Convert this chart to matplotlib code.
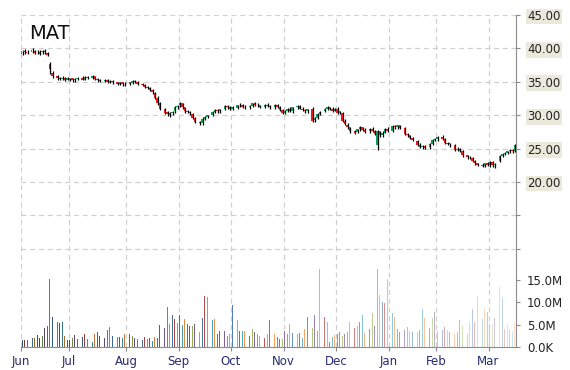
import numpy as np
import matplotlib
matplotlib.use("Agg")
import matplotlib.pyplot as plt
from matplotlib.colors import to_rgb

plt.rc("font", family="DejaVu Sans")

ticker = "MAT"
months = ["Jun", "Jul", "Aug", "Sep", "Oct", "Nov", "Dec", "Jan", "Feb", "Mar"]
month_days = [19, 23, 21, 21, 21, 21, 21, 19, 21, 11]
N = None

opens = [
    39.2, 39.6, 39.4, N, 39.5, 39.6, 39.4, 39.5, 39.4, 39.6, 39.3, 37.6, 36.3, N, 35.8, 35.5, 35.4, 35.6, 35.3,
    35.3, 35.5, 35.2, 35.4, N, 35.6, 35.3, 35.7, N, 35.6, 35.8, 35.4, 35.2, N, 35.1, 35.3, 35.0, 35.1, N, 34.9, 34.7, 34.9, 34.6,
    N, 34.7, 34.8, 35.1, 35.0, N, 34.6, 34.5, 34.2, 34.0, 33.8, 33.3, 32.6, 31.8, N, 31.0, 30.5, 30.0, 30.3, 30.6, 31.2,
    31.5, 31.8, 31.2, 30.6, 30.4, 30.2, 29.6, N, 29.0, 28.8, 29.5, 29.8, N, 30.1, 30.5, 30.8, 30.6, N, 31.0, 31.4, 31.2,
    31.0, N, 31.1, 31.5, 31.6, 31.3, N, 31.2, 31.4, 31.8, 31.6, 31.5, N, 31.3, 31.6, 31.4, N, 31.2, 31.6, 31.3, 30.8,
    30.4, 30.7, 31.0, 30.6, N, 31.2, 31.4, 31.0, 30.8, 30.6, N, 31.0, 29.3, 29.6, 30.2, N, 30.7, 31.0, 31.2, 31.0, 30.7,
    31.0, 30.4, 30.3, 29.2, 28.6, 28.2, N, 27.6, 27.5, 27.9, 28.2, 27.8, N, 27.6, 28.0, 27.7, 25.5, 27.6, 27.0, 27.4, 28.0,
    N, 27.6, 28.4, 28.2, 28.5, N, 28.1, 27.2, 27.0, 26.6, N, 26.2, 25.6, 25.3, 25.4, N, 25.2, 25.7, 26.3,
    26.4, N, 26.8, 26.5, 25.9, 25.7, N, 25.6, 24.8, 25.0, 24.7, N, 24.0, 23.7, 23.6, 23.2, 22.8, N, 22.6, 22.4, 22.8,
    22.6, 23.0, 22.5, N, 23.2, 23.9, 24.2, 24.4, 24.6, 24.8, 24.6,
]
highs = [
    39.8, 39.9, 39.7, N, 40.1, 39.8, 39.7, 39.8, 39.7, 39.9, 39.5, 37.9, 36.6, N, 36.0, 35.7, 35.8, 35.7, 35.7,
    35.6, 35.6, 35.5, 35.7, N, 35.8, 35.8, 35.9, N, 36.0, 35.9, 35.5, 35.4, N, 35.4, 35.4, 35.3, 35.2, N, 35.0, 35.0, 35.0, 34.9,
    N, 35.0, 35.2, 35.3, 35.1, N, 34.8, 34.6, 34.4, 34.2, 33.9, 33.5, 32.8, 32.0, N, 31.1, 30.7, 30.5, 30.7, 31.4, 31.6,
    32.0, 31.9, 31.3, 30.8, 30.6, 30.3, 29.7, N, 29.2, 29.7, 29.9, 30.1, N, 30.6, 30.9, 31.0, 31.0, N, 31.5, 31.6, 31.4,
    31.4, N, 31.6, 31.8, 31.7, 31.5, N, 31.5, 31.9, 32.0, 31.8, 31.6, N, 31.7, 31.8, 31.6, N, 31.7, 31.7, 31.4, 31.0,
    30.8, 31.1, 31.2, 31.3, N, 31.6, 31.5, 31.2, 31.0, 31.0, N, 31.2, 29.8, 30.4, 30.7, N, 31.1, 31.4, 31.3, 31.2, 31.1,
    31.2, 30.7, 30.5, 29.4, 28.8, 28.3, N, 27.8, 28.0, 28.4, 28.3, 28.1, N, 28.1, 28.2, 27.8, 27.8, 27.7, 27.6, 28.1, 28.2,
    N, 28.5, 28.6, 28.6, 28.6, N, 28.2, 27.4, 27.1, 26.8, N, 26.3, 25.8, 25.6, 25.6, N, 25.8, 26.4, 26.6,
    26.9, N, 27.0, 26.6, 26.0, 25.9, N, 25.7, 25.2, 25.1, 24.8, N, 24.1, 23.9, 23.7, 23.3, 22.9, N, 22.8, 22.9, 23.0,
    23.2, 23.1, 22.9, N, 24.0, 24.3, 24.5, 24.7, 24.9, 24.9, 25.7,
]
lows = [
    39.0, 39.2, 39.1, N, 39.3, 39.1, 39.2, 39.0, 39.2, 39.2, 38.8, 36.2, 35.6, N, 35.3, 35.2, 35.2, 35.1, 35.2,
    35.1, 35.0, 35.0, 35.2, N, 35.2, 35.2, 35.4, N, 35.4, 35.3, 35.0, 34.9, N, 34.9, 34.8, 34.8, 34.7, N, 34.5, 34.5, 34.4, 34.4,
    N, 34.5, 34.6, 34.8, 34.5, N, 34.3, 34.0, 33.9, 33.6, 33.2, 32.4, 31.6, 30.8, N, 30.2, 29.9, 29.8, 30.1, 30.4, 31.0,
    31.3, 31.0, 30.4, 30.3, 30.1, 29.4, 28.8, N, 28.5, 28.6, 29.3, 29.6, N, 29.9, 30.3, 30.4, 30.4, N, 30.8, 31.0, 30.8,
    30.8, N, 30.9, 31.3, 31.1, 31.0, N, 31.0, 31.2, 31.4, 31.3, 31.1, N, 31.1, 31.2, 31.0, N, 31.0, 31.1, 30.6, 30.2,
    30.2, 30.5, 30.5, 30.4, N, 31.0, 30.9, 30.6, 30.4, 30.4, N, 29.0, 29.0, 29.4, 30.0, N, 30.5, 30.8, 30.8, 30.5, 30.6,
    30.2, 30.2, 29.0, 28.5, 28.0, 27.4, N, 27.2, 27.3, 27.7, 27.6, 27.3, N, 27.4, 27.5, 27.0, 24.8, 26.8, 26.8, 27.3, 27.5,
    N, 27.5, 28.0, 28.0, 27.9, N, 27.0, 26.8, 26.4, 26.1, N, 25.4, 25.1, 24.9, 24.9, N, 25.0, 25.6, 26.1,
    26.2, N, 26.3, 25.7, 25.5, 25.3, N, 24.6, 24.6, 24.5, 23.8, N, 23.5, 23.4, 23.0, 22.6, 22.4, N, 22.2, 22.3, 22.4,
    22.2, 22.3, 22.1, N, 23.0, 23.7, 24.0, 24.2, 24.4, 24.4, 24.5,
]
closes = [
    39.6, 39.4, 39.3, N, 39.8, 39.3, 39.5, 39.2, 39.6, 39.4, 39.0, 36.9, 35.8, N, 35.5, 35.4, 35.6, 35.3, 35.5,
    35.5, 35.2, 35.4, 35.6, N, 35.3, 35.7, 35.5, N, 35.8, 35.4, 35.2, 35.1, N, 35.3, 35.0, 35.1, 34.9, N, 34.7, 34.9, 34.6, 34.7,
    N, 34.9, 35.1, 35.0, 34.6, N, 34.5, 34.2, 34.0, 33.8, 33.4, 32.6, 31.8, 31.0, N, 30.4, 30.2, 30.3, 30.5, 31.2, 31.4,
    31.8, 31.2, 30.6, 30.5, 30.3, 29.6, 29.0, N, 28.8, 29.5, 29.8, 30.0, N, 30.5, 30.8, 30.6, 30.9, N, 31.4, 31.2, 31.0,
    31.3, N, 31.5, 31.6, 31.3, 31.2, N, 31.4, 31.8, 31.6, 31.5, 31.3, N, 31.6, 31.4, 31.2, N, 31.6, 31.3, 30.8, 30.4,
    30.7, 31.0, 30.6, 31.2, N, 31.4, 31.0, 30.8, 30.6, 30.9, N, 29.2, 29.6, 30.2, 30.5, N, 31.0, 31.2, 31.0, 30.7, 31.0,
    30.4, 30.6, 29.2, 28.7, 28.2, 27.6, N, 27.4, 27.9, 28.3, 27.8, 27.5, N, 28.0, 27.7, 27.2, 27.6, 27.0, 27.4, 28.0, 27.7,
    N, 28.4, 28.2, 28.5, 28.1, N, 27.2, 27.0, 26.6, 26.3, N, 25.6, 25.3, 25.4, 25.1, N, 25.7, 26.3, 26.4,
    26.8, N, 26.5, 25.9, 25.7, 25.6, N, 24.8, 25.0, 24.7, 24.0, N, 23.7, 23.8, 23.2, 22.8, 22.6, N, 22.4, 22.8, 22.6,
    23.0, 22.5, 22.7, N, 23.9, 24.2, 24.4, 24.6, 24.8, 24.6, 25.5,
]
# volume in millions of shares
volumes = [
    1.6, 1.6, 1.5, N, 2.0, 2.0, 2.6, 2.0, 2.5, 4.3, 4.7, 15.2, 6.7, N, 5.6, 5.4, 5.6, 2.5, 1.6,
    1.6, 2.0, 2.6, 1.8, N, 2.3, 3.0, 1.8, N, 1.1, 2.8, 3.3, 2.5, N, 2.0, 3.8, 4.5, 2.5, N, 2.3, 2.3, 2.0, 3.0,
    N, 3.0, 2.5, 2.0, 1.8, N, 1.6, 2.3, 1.8, 2.0, 1.3, 2.3, 2.0, 4.9, N, 4.3, 8.9, 5.1, 7.2, 6.3, 5.4,
    7.2, 4.9, 6.3, 5.2, 4.6, 4.7, 5.2, N, 3.3, 6.5, 11.4, 11.2, N, 6.0, 6.3, 3.0, 3.5, N, 3.5, 2.5, 2.8,
    9.4, N, 6.0, 3.5, 3.5, 3.5, N, 2.5, 4.1, 3.3, 3.0, 2.5, N, 2.0, 2.8, 6.0, N, 2.8, 2.3, 1.8, 1.8,
    3.6, 2.9, 5.2, 3.2, N, 2.9, 3.2, 2.1, 4.1, 6.7, N, 4.3, 7.2, 3.6, 17.5, N, 6.7, 5.5, 1.2, 2.3, 2.6,
    2.9, 3.3, 2.4, 2.9, 3.3, 5.5, N, 4.3, 4.7, 5.5, 7.2, 3.2, N, 4.1, 7.5, 4.7, 17.5, 11.7, 10.1, 9.9, 15.2,
    N, 7.6, 6.7, 4.0, 3.4, N, 3.9, 4.4, 3.6, 3.4, N, 3.4, 3.9, 8.4, 6.6, N, 4.3, 6.5, 7.8,
    3.6, N, 3.9, 4.4, 3.9, 3.4, N, 3.0, 3.4, 6.1, 4.6, N, 2.9, 5.5, 8.4, 5.5, 11.4, N, 6.2, 8.6, 7.8,
    5.2, 5.0, 6.5, N, 13.4, 11.0, 4.0, 4.9, 3.8, 3.6, 5.4,
]

price_ticks = [10, 15, 20, 25, 30, 35, 40, 45]
vol_ticks = [0, 5, 10, 15]
vol_labels = ["0.0K", "5.0M", "10.0M", "15.0M"]

o = np.array(opens, dtype=float)
h = np.array(highs, dtype=float)
l = np.array(lows, dtype=float)
c = np.array(closes, dtype=float)
v = np.array(volumes, dtype=float)
x = np.arange(len(c))
month_pos = np.cumsum([0] + month_days[:-1]) - 0.5

fig = plt.figure(figsize=(5.7, 3.7), dpi=100)
ax = fig.add_axes([21 / 570, 23 / 370, 495 / 570, 332 / 370])
axv = ax.twinx()

grid_col = "#d0d0d0"
axis_col = "#8c8c8c"

# price candles
m = ~np.isnan(c)
up = c >= o
body_cols = np.where(up, "#00a060", "#f01414")
ax.vlines(x[m] + 0.2, l[m], h[m], color="black", lw=0.9, zorder=3)
bh = np.where(np.abs(c - o) < 0.1, 0.1, c - o)
ax.bar(x[m] - 0.2, bh[m], bottom=o[m], width=0.6, color=body_cols[m], lw=0, zorder=4)

ax.set_xlim(-0.5, len(c) - 0.5)
ax.set_ylim(-4.7, 45)
ax.yaxis.tick_right()
ax.set_yticks(price_ticks)
ax.set_yticklabels(["" if t < 20 else "%.2f" % t for t in price_ticks])
for lbl in ax.get_yticklabels():
    if lbl.get_text():
        lbl.set_bbox(dict(facecolor="#ebe9dc", edgecolor="none", pad=1.2))
ax.set_xticks(month_pos)
ax.set_xticklabels(months)
ax.grid(True, color=grid_col, linestyle=(0, (4, 3)), lw=0.9)
ax.set_axisbelow(True)
ax.tick_params(axis="y", length=3, color=axis_col, labelsize=8.5, pad=5, labelcolor="#222222")
ax.tick_params(axis="x", length=3, color=axis_col, labelsize=8.5, pad=3, labelcolor="#2a2a6e")
for s in ["top", "left"]:
    ax.spines[s].set_visible(False)
ax.spines["right"].set_color(axis_col)
ax.spines["bottom"].set_color(axis_col)

# volume bars, colours fading from dark to pale across the period
base = ["#4F81BD", "#C0504D", "#9BBB59", "#8064A2", "#4BACC6", "#F79646"]
vcols = []
for i in range(len(v)):
    rgb = np.array(to_rgb(base[i % len(base)]))
    t = i / (len(v) - 1)
    if t < 0.45:
        rgb = rgb * (1 - (0.45 - t) * 0.8)
    else:
        rgb = rgb + (1 - rgb) * (t - 0.45) * 1.25
    vcols.append(tuple(rgb))
vcols = np.array(vcols)
vm = ~np.isnan(v)
axv.bar(x[vm], v[vm], width=0.5, color=vcols[vm], lw=0)
axv.set_ylim(0, 74.3)
axv.set_yticks(vol_ticks)
axv.set_yticklabels(vol_labels)
axv.tick_params(axis="y", length=3, color=axis_col, labelsize=8.5, pad=5, labelcolor="#222222")
for s in axv.spines.values():
    s.set_visible(False)

fig.text(29 / 570, 1 - 39 / 370, ticker, fontsize=14, color="#111111", va="baseline", ha="left")

fig.savefig("out.png", dpi=100)
